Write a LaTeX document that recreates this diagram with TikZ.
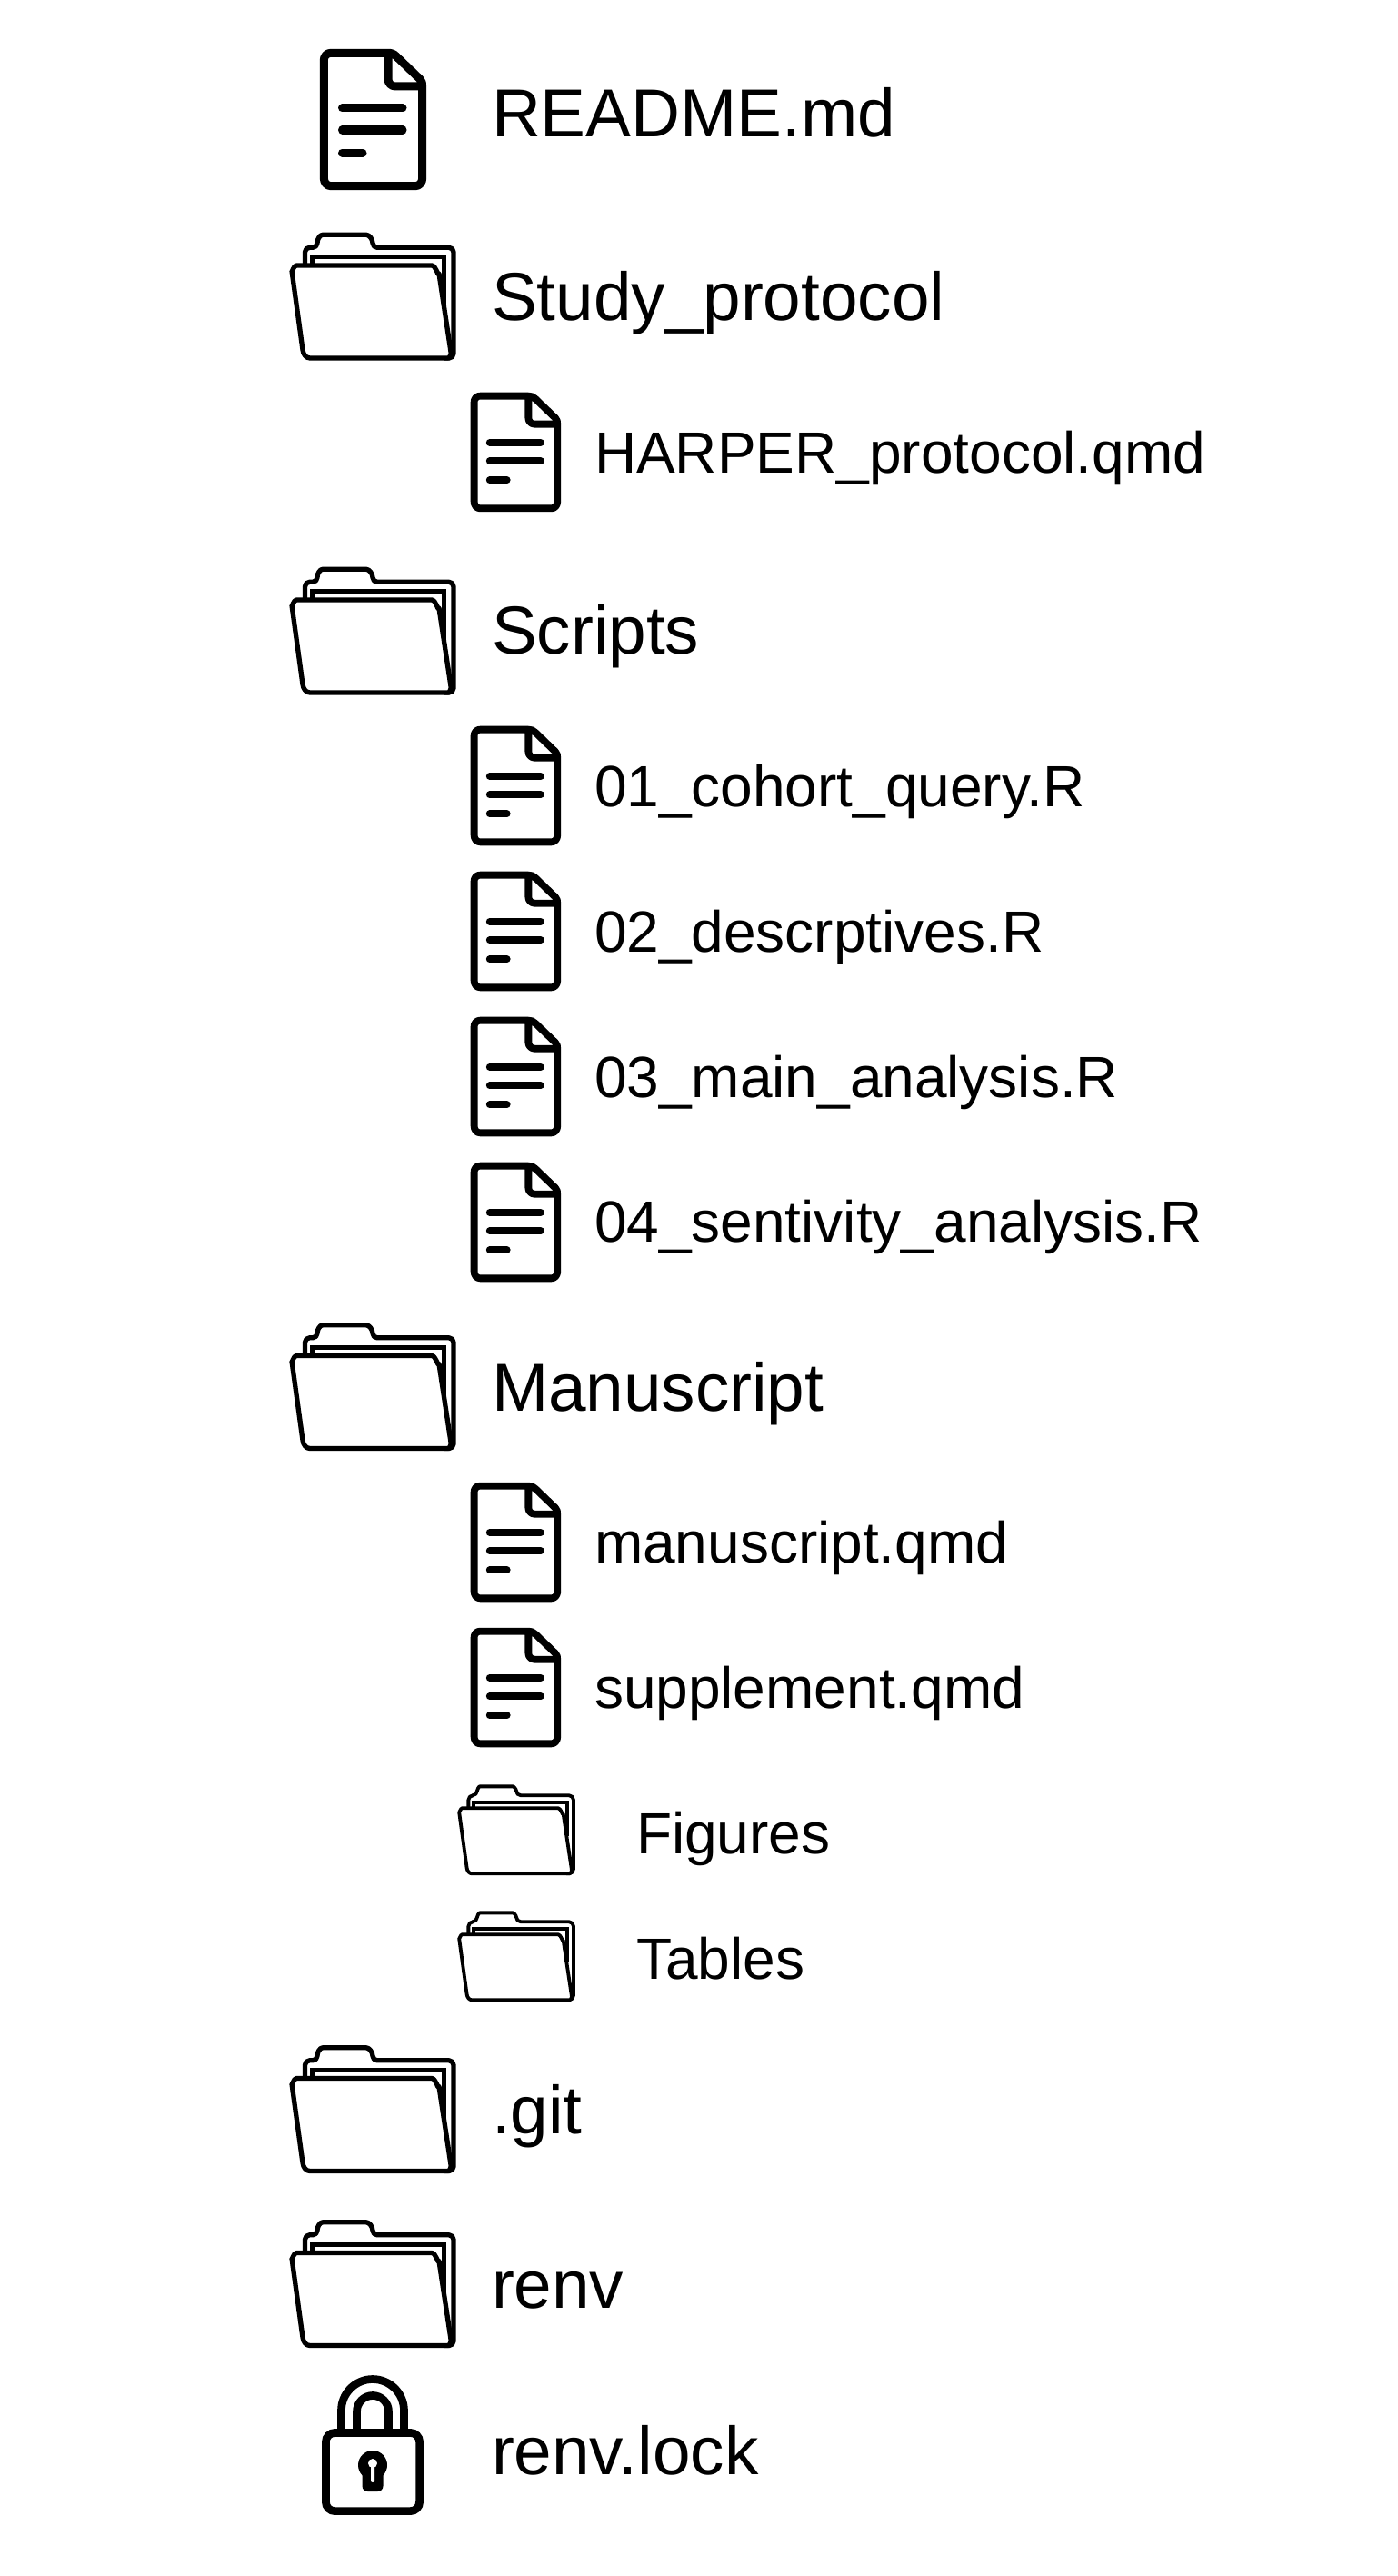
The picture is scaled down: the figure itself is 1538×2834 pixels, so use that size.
\documentclass[tikz,border=0pt]{standalone}
\usepackage{fontspec}
\setmainfont{Liberation Sans}
\tikzset{
  x=1pt,y=-1pt,
  bigtext/.style={anchor=base west,inner sep=0pt,outer sep=0pt,font=\fontsize{74.7}{80}\selectfont},
  smalltext/.style={anchor=base west,inner sep=0pt,outer sep=0pt,font=\fontsize{64}{70}\selectfont},
  docbig/.style={scale=1,line width=9pt},
  docsmall/.style={scale=0.845,line width=7.8pt},
  folderbig/.style={scale=1,line width=5.3pt},
  foldersmall/.style={scale=0.707,line width=3.8pt},
  docicon/.pic={
    \draw[line join=round] (75,4.3) -- (12,4.3) to[out=180,in=90] (4.3,12) -- (4.3,142)
      to[out=-90,in=180] (12,150.7) -- (105,150.7) to[out=0,in=-90] (112.7,142) -- (112.7,41)
      to[out=90,in=-45] (110,33) -- (84,8) to[out=135,in=0] (75,4.3) -- (75,33)
      to[out=-90,in=180] (83,41) -- (112.7,41);
    \draw[line cap=round] (24.5,65) -- (91,65);
    \draw[line cap=round] (24.5,89) -- (91,89);
    \draw[line cap=round] (24.5,114) -- (47,114);
  },
  foldericon/.pic={
    \draw[line join=round,rounded corners=5pt] (17.5,38) -- (17.5,17.3) -- (31,17.3)
      .. controls (31,8) and (34,3.3) .. (42,3.3) -- (80,3.3)
      .. controls (88,3.3) and (92,8) .. (92,17.3) -- (181,17.3) -- (181,139) -- (170,139);
    \draw[line join=miter] (26,38) -- (26,27.7) -- (170.7,27.7) -- (170.7,80);
    \path[draw,fill=white,line join=round]
      (3,43) to[out=-90,in=180] (8,37) -- (157,37) to[out=0,in=-98] (165,46)
      -- (178.3,134) to[out=82,in=0] (175,139) -- (23,139) to[out=180,in=-82] (15,130) -- cycle;
  }
}
\begin{document}
\begin{tikzpicture}
\useasboundingbox (0,0) rectangle (1538,2834);
\fill[white] (0,0) rectangle (1538,2834);
% icons
\pic[docbig] (ireadme) at (352,54) {docicon};
\pic[folderbig] (istudy) at (318,255) {foldericon};
\pic[docsmall] (iharper) at (518,432) {docicon};
\pic[folderbig] (iscripts) at (318,623) {foldericon};
\pic[docsmall] (ia) at (518,799) {docicon};
\pic[docsmall] (ib) at (518,959) {docicon};
\pic[docsmall] (ic) at (518,1119) {docicon};
\pic[docsmall] (id) at (518,1279) {docicon};
\pic[folderbig] (imanu) at (318,1454.5) {foldericon};
\pic[docsmall] (ie) at (518,1631) {docicon};
\pic[docsmall] (if) at (518,1791) {docicon};
\pic[foldersmall] (ifig) at (503,1963) {foldericon};
\pic[foldersmall] (itab) at (503,2102) {foldericon};
\pic[folderbig] (igit) at (318,2249.5) {foldericon};
\pic[folderbig] (irenv) at (318,2441.5) {foldericon};
% lock
\draw[line width=8.7pt] (375.5,2674) -- (375.5,2652) arc[start angle=180,end angle=360,radius=34.5] -- (444.5,2674);
\draw[line width=8.7pt] (392.5,2674) -- (392.5,2653) arc[start angle=180,end angle=360,radius=17.5] -- (427.5,2674);
\draw[line width=8.7pt,fill=white,rounded corners=10pt] (358.4,2676.4) rectangle (461.6,2762.6);
\fill (410,2712) circle[radius=16];
\fill[rounded corners=6pt] (398.5,2712) rectangle (421.5,2741);
\fill[white] (410,2710) circle[radius=5];
\fill[white,rounded corners=2pt] (408,2710) rectangle (412,2731);
% labels
\node[bigtext] (t1) at (541,150.5) {README.md};
\node[bigtext] (t2) at (541,352) {Study\_protocol};
\node[smalltext] (t3) at (654,520.5) {HARPER\_protocol.qmd};
\node[bigtext] (t4) at (541,719.5) {Scripts};
\node[smalltext] (t5) at (654,887) {01\_cohort\_query.R};
\node[smalltext] (t6) at (654,1047) {02\_descrptives.R};
\node[smalltext] (t7) at (654,1207) {03\_main\_analysis.R};
\node[smalltext] (t8) at (654,1366.5) {04\_sentivity\_analysis.R};
\node[bigtext] (t9) at (541,1552) {Manuscript};
\node[smalltext] (t10) at (654,1719.5) {manuscript.qmd};
\node[smalltext] (t11) at (654,1879.5) {supplement.qmd};
\node[smalltext] (t12) at (700,2039.5) {Figures};
\node[smalltext] (t13) at (700,2177.5) {Tables};
\node[bigtext] (t14) at (541,2347) {.git};
\node[bigtext] (t15) at (541,2539.5) {renv};
\node[bigtext] (t16) at (541,2722.5) {renv.lock};
\end{tikzpicture}
\end{document}
